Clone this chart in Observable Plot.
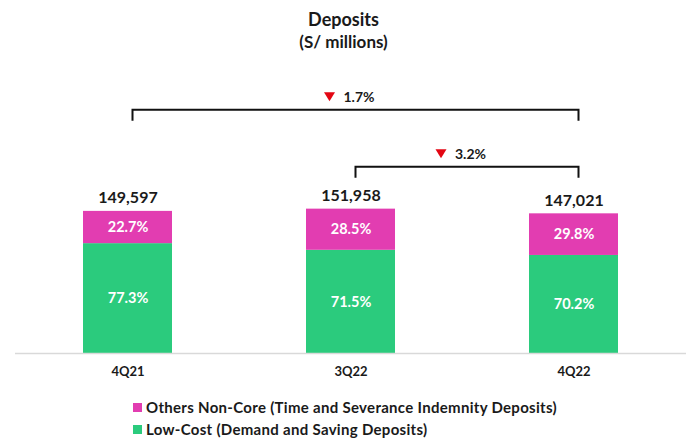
<!DOCTYPE html>
<html><head><meta charset="utf-8">
<script src="https://cdn.jsdelivr.net/npm/d3@7"></script>
<script src="https://cdn.jsdelivr.net/npm/@observablehq/plot@0.6"></script>
<style>
body{margin:0;background:#fff;font-family:Lato,"Open Sans",sans-serif;color:#1a1a1a;}
#wrap{width:687px;}
.title{text-align:center;font-weight:700;font-size:18px;line-height:22px;margin-top:8px;}
.sub{text-align:center;font-weight:700;font-size:17px;line-height:20px;margin-top:2px;margin-bottom:4px;}
.legend{padding-left:133px;margin-top:6px;font-size:15px;letter-spacing:0.3px;font-weight:700;color:#1a1a1a;}
.legend div{display:flex;align-items:center;height:22px;}
.sw{width:9px;height:9px;margin-right:4px;}
</style></head><body><div id="wrap">
<div class="title">Deposits</div>
<div class="sub">(S/ millions)</div>
<div id="chart"></div>
<div class="legend" id="legend"></div>
</div>
<script>
const periods = ["4Q21", "3Q22", "4Q22"];
const totals = [149597, 151958, 147021];
const lowCostShare = [77.3, 71.5, 70.2];
const otherShare = [22.7, 28.5, 29.8];
const seriesNames = ["Low-Cost", "Others Non-Core"];
const legendLabels = ["Others Non-Core (Time and Severance Indemnity Deposits)", "Low-Cost (Demand and Saving Deposits)"];
const compareFrom = ["4Q21", "3Q22"];
const compareTo = ["4Q22", "4Q22"];
const compareChange = ["1.7%", "3.2%"];

const colors = {"Low-Cost": "#2BCB7D", "Others Non-Core": "#E23DB1"};

const rows = periods.flatMap((p, i) => [
  {period: p, segment: seriesNames[0], value: totals[i] * lowCostShare[i] / 100, share: lowCostShare[i]},
  {period: p, segment: seriesNames[1], value: totals[i] * otherShare[i] / 100, share: otherShare[i]}
]);
const totalRows = periods.map((p, i) => ({period: p, total: totals[i]}));

function brackets(index, scales, values, dims) {
  const x = scales.x, y = scales.y;
  const bw = typeof x.bandwidth === "function" ? x.bandwidth() : (x.bandwidth || 0);
  const cx = p => x(p) + bw / 2;
  const top = y(d3.max(totals));
  const rise = [99, 42];
  const g = d3.create("svg:g");
  compareFrom.forEach((f, i) => {
    const x1 = cx(f) + 5, x2 = cx(compareTo[i]) + 5;
    const yy = top - rise[i];
    g.append("path")
      .attr("d", `M${x1},${yy + 11}V${yy}H${x2}V${yy + 11}`)
      .attr("fill", "none").attr("stroke", "#111").attr("stroke-width", 2);
    const mid = (x1 + x2) / 2;
    const ly = yy - 13;
    const tx = mid - 26;
    g.append("path")
      .attr("d", `M${tx - 5.5},${ly - 4.5}L${tx + 5.5},${ly - 4.5}L${tx},${ly + 4.5}Z`)
      .attr("fill", "#E30613");
    g.append("text")
      .attr("x", tx + 14).attr("y", ly).attr("dy", "0.35em")
      .attr("text-anchor", "start")
      .attr("font-size", 14).attr("font-weight", 700).attr("fill", "#1a1a1a")
      .text(compareChange[i]);
  });
  return g.node();
}

const chart = Plot.plot({
  width: 687,
  height: 334,
  marginLeft: 15,
  marginRight: 1,
  marginTop: 145,
  marginBottom: 37,
  style: {fontFamily: "Lato, 'Open Sans', sans-serif", background: "#fff", overflow: "visible"},
  x: {domain: periods, paddingInner: 0.6, paddingOuter: 0.3, axis: null},
  y: {domain: [0, 160000], axis: null},
  color: {domain: seriesNames, range: seriesNames.map(s => colors[s])},
  marks: [
    Plot.barY(rows, {x: "period", y: "value", fill: "segment", order: seriesNames}),
    Plot.text(rows, Plot.stackY({x: "period", y: "value", z: "segment", order: seriesNames,
      text: d => d.share.toFixed(1) + "%", fill: "white", fontSize: 14.5, fontWeight: 700})),
    Plot.ruleY([0], {stroke: "#d9d9d9", strokeWidth: 1.5}),
    Plot.text(totalRows, {x: "period", y: "total", text: d => d3.format(",")(d.total),
      dy: -8, lineAnchor: "bottom", fontSize: 16, fontWeight: 700, fill: "#1a1a1a"}),
    Plot.text(periods, {x: d => d, frameAnchor: "bottom", dy: 22, fontSize: 13, fontWeight: 700, fill: "#1a1a1a"}),
    brackets
  ]
});
document.getElementById("chart").appendChild(chart);

const leg = document.getElementById("legend");
[[seriesNames[1], legendLabels[0]], [seriesNames[0], legendLabels[1]]].forEach(([s, lab]) => {
  const d = document.createElement("div");
  const sw = document.createElement("span");
  sw.className = "sw"; sw.style.background = colors[s];
  d.appendChild(sw);
  d.appendChild(document.createTextNode(lab));
  leg.appendChild(d);
});
</script>
</body></html>
